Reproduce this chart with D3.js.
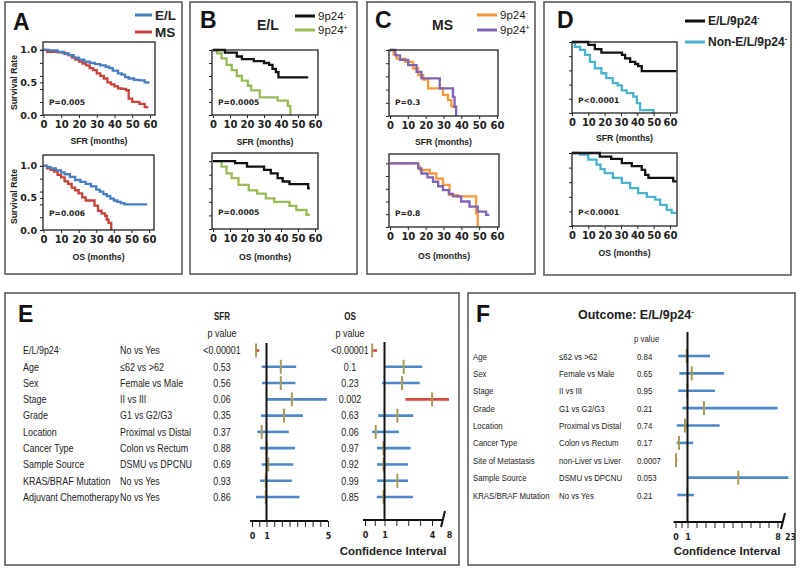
<!DOCTYPE html>
<html><head><meta charset="utf-8">
<script src="https://cdn.jsdelivr.net/npm/d3@7"></script>
<style>
body{margin:0;background:#fff}
svg{display:block}
</style></head><body>
<svg id="fig" width="800" height="569"></svg>
<script>
// ---------- Kaplan-Meier data: [months, survival] ----------
const aSfrEL = [[0,1],[3,0.99],[8,0.97],[11,0.95],[14,0.92],[17,0.88],[20,0.85],[23,0.82],[26,0.80],[29,0.78],[32,0.76],[35,0.74],[37,0.72],[39,0.68],[42,0.64],[44,0.62],[46,0.58],[48,0.56],[51,0.54],[54,0.53],[57,0.50],[59,0.48]];
const aSfrMS = [[0,1],[2,0.97],[8,0.96],[12,0.94],[14,0.92],[16,0.88],[18,0.85],[20,0.82],[22,0.79],[24,0.76],[26,0.72],[28,0.69],[30,0.64],[32,0.60],[34,0.56],[36,0.50],[38,0.47],[40,0.44],[42,0.41],[44,0.40],[46.5,0.38],[48,0.25],[50,0.20],[54,0.17],[57,0.12],[59,0.12]];
const aOsEL = [[0,1],[2,0.98],[4,0.96],[7,0.93],[10,0.90],[12,0.87],[15,0.83],[18,0.78],[21,0.75],[24,0.72],[27,0.68],[30,0.63],[32,0.60],[34,0.56],[36,0.53],[38,0.49],[40,0.46],[42,0.44],[44,0.42],[46,0.40],[59,0.40]];
const aOsMS = [[0,1],[2,0.96],[4,0.94],[6,0.91],[8,0.86],[10,0.82],[12,0.76],[14,0.72],[16,0.66],[18,0.62],[20,0.57],[22,0.51],[24,0.46],[28,0.46],[29,0.38],[31,0.30],[33,0.26],[35,0.22],[36,0.16],[37,0.11],[38.5,0.0]];
const bSfrNeg = [[0,1],[7,0.96],[14,0.90],[17,0.86],[24,0.83],[30,0.80],[33,0.77],[35,0.71],[37,0.66],[38.5,0.58],[56,0.58]];
const bSfrPos = [[0,1],[2.4,0.95],[5,0.87],[8,0.77],[11,0.69],[14,0.60],[17,0.53],[20.5,0.45],[22.5,0.38],[27.5,0.27],[38,0.22],[44,0.14],[45.5,0.0]];
const bOsNeg = [[0,1],[13,0.97],[20,0.92],[30,0.87],[34,0.82],[38,0.75],[41,0.70],[45,0.66],[56,0.60],[57,0.60]];
const bOsPos = [[0,1],[5,0.92],[8,0.82],[11,0.75],[15,0.65],[21,0.57],[26,0.52],[31,0.45],[36,0.40],[45,0.34],[49,0.28],[55,0.21],[57,0.21]];
const cSfrNeg = [[0,1],[2,0.93],[3.7,0.87],[8.4,0.82],[13,0.72],[15.8,0.62],[18.6,0.55],[21.4,0.42],[26,0.42],[29.7,0.32],[32.5,0.24],[34.4,0.15],[35.3,0.12]];
const cSfrPos = [[0,1],[3,0.92],[5.6,0.85],[10.2,0.77],[14.9,0.67],[17.6,0.57],[27.9,0.42],[35.3,0.29],[36.2,0.14],[37.1,0.0]];
const cOsNeg = [[0,1],[15.8,0.95],[16.7,0.895],[22.3,0.84],[26,0.76],[29.7,0.66],[33.4,0.50],[38,0.48],[48.3,0.215],[49.2,0.0]];
const cOsPos = [[0,1],[15.8,0.92],[17.6,0.84],[21,0.78],[24.1,0.71],[27,0.64],[29.7,0.58],[33,0.52],[35.3,0.48],[39.9,0.40],[44.6,0.32],[49.2,0.24],[53.9,0.19],[55.7,0.19]];
const dSfrEL = [[0,1],[10,0.96],[14,0.90],[18,0.85],[30.6,0.82],[32.5,0.77],[35.6,0.72],[38.7,0.69],[40.5,0.66],[42.7,0.59],[64,0.59]];
const dSfrNon = [[0,1],[1.8,0.93],[4.9,0.89],[8,0.82],[11,0.72],[14,0.63],[18,0.56],[21,0.49],[25,0.42],[28,0.39],[30.5,0.32],[33.5,0.28],[37.5,0.23],[39.7,0.14],[41.7,0.04],[50,0.0]];
const dOsEL = [[0,1],[17,0.95],[24,0.92],[30.5,0.86],[36.6,0.82],[42.7,0.77],[44.8,0.70],[46.8,0.66],[62,0.61],[64,0.61]];
const dOsNon = [[0,1],[5,0.977],[10,0.91],[15,0.84],[17.5,0.78],[20,0.725],[25,0.66],[30.5,0.59],[35.6,0.52],[40.5,0.45],[45.8,0.40],[51,0.36],[54,0.29],[58,0.22],[61,0.18],[64,0.18]];

const monthTicks = [0,10,20,30,40,50,60];
const survTicks = [0,0.2,0.4,0.6,0.8,1];
const survLabels = [0,0.5,1];

// ---------- Forest plot data ----------
const eVars = ['E/L/9p24','Age','Sex','Stage','Grade','Location','Cancer Type','Sample Source','KRAS/BRAF Mutation','Adjuvant Chemotherapy'];
const eComps = ['No vs Yes','≤62 vs >62','Female vs Male','II vs III','G1 vs G2/G3','Proximal vs Distal','Colon vs Rectum','DSMU vs DPCNU','No vs Yes','No vs Yes'];
const eSfrP = ['<0.00001','0.53','0.56','0.06','0.35','0.37','0.88','0.69','0.93','0.86'];
const eSfrHR = [0.28,1.93,1.93,2.65,2.14,0.67,1.01,1.12,0.95,0.95];
const eSfrLo = [0.21,0.67,0.69,0.97,0.62,0.37,0.55,0.67,0.55,0.28];
const eSfrHi = [0.5,2.93,2.88,4.93,3.37,2.45,2.86,2.75,2.65,3.15];
const eSfrSig = [1,0,0,0,0,0,0,0,0,0];
const eOsP = ['<0.00001','0.1','0.23','0.002','0.63','0.06','0.97','0.92','0.99','0.85'];
const eOsHR = [0.37,2.21,2.11,4.02,1.81,0.55,0.95,0.95,1.81,0.95];
const eOsLo = [0.33,1.0,0.88,2.32,0.67,0.37,0.62,0.62,0.62,0.6];
const eOsHi = [0.62,3.38,3.23,8.0,2.81,1.91,2.64,2.49,2.49,2.81];
const eOsSig = [1,0,0,1,0,0,0,0,0,0];
const eSfrTicks = [0,0.5,1,1.5,2,2.5,3,3.5,4,4.5,5];
const eSfrTickLabels = [0,1,5];
const eOsTicks = [0,0.5,1,1.75,2.5,3.25,4];
const eOsTickLabels = [0,1,4,8];

const fVars = ['Age','Sex','Stage','Grade','Location','Cancer Type','Site of Metastasis','Sample Source','KRAS/BRAF Mutation'];
const fComps = ['≤62 vs >62','Female vs Male','II vs III','G1 vs G2/G3','Proximal vs Distal','Colon vs Rectum','non-Liver vs Liver','DSMU vs DPCNU','No vs Yes'];
const fP = ['0.84','0.65','0.95','0.21','0.74','0.17','0.0007','0.053','0.21'];
const fHR = [0.93,1.33,0.98,2.28,0.79,0.29,0.04,4.95,0.98];
const fLo = [0.23,0.32,0.23,0.57,0.1,0.1,0.0,0.98,0.15];
const fHi = [2.75,3.84,3.14,8.06,3.5,1.45,0.15,21,1.5];
const fSig = [0,0,0,0,0,0,1,0,0];
const fTicks = [0,0.5,1,1.7,2.4,3.1,3.8,4.5,5.2,5.9,6.6,7.3,8];
const fTickLabels = [0,1,8,23];

// ---------- colours ----------
const C = {el:'#4A7EC2', ms:'#C8413B', blk:'#111111', grn:'#9BBB59', org:'#F39A3E', pur:'#8064B2', cyan:'#4BB3CB',
           ci:'#4E88C8', hr:'#A89B5A', sig:'#D9483F', frame:'#5a5a5a'};
const SANS = '"Liberation Sans", Arial, sans-serif';
const DJ = '"DejaVu Sans", Verdana, sans-serif';
const NARROW_SX = 0.8;   // condensed rendering of the table text

const svg = d3.select('#fig');

// panel frames
[[5,2,177,272],[190,2,167,272],[367,2,168,272],[544,2,247,273],[5,293,454,272],[468,293,327,272]].forEach(r=>{
  svg.append('rect').attr('x',r[0]).attr('y',r[1]).attr('width',r[2]).attr('height',r[3])
    .attr('fill','none').attr('stroke',C.frame).attr('stroke-width',1.6);
});

function txt(x,y,s,o={}){
  const t = svg.append('text').text(s)
    .attr('font-family',o.ff||SANS).attr('font-size',o.fs||10).attr('font-weight',o.fw||'normal')
    .attr('fill',o.fill||'#222').attr('text-anchor',o.anchor||'start');
  if(o.sx){ t.attr('x',0).attr('y',0).attr('transform',`translate(${x},${y}) scale(${o.sx},1)`); }
  else { t.attr('x',x).attr('y',y); }
  return t;
}
function supText(x,y,base,sup,o={}){
  const t = txt(x,y,base,o);
  t.append('tspan').attr('dy',-(o.fs||10)*0.38).attr('font-size',(o.fs||10)*0.6).text(sup);
  return t;
}

// ---------- KM plots ----------
function drawKM(s, series){
  const x = d3.scaleLinear().domain([0,60]).range([s.x0,s.x60]);
  const y = d3.scaleLinear().domain([0,s.ymax]).range([s.bottom,s.top]);
  const line = d3.line().x(d=>x(d[0])).y(d=>y(d[1])).curve(d3.curveStepAfter);
  series.forEach(se=>{
    svg.append('path').datum(se.data).attr('d',line).attr('fill','none')
      .attr('stroke',se.color).attr('stroke-width',2.3).attr('stroke-linejoin','miter');
  });
  svg.append('rect').attr('x',s.left).attr('y',s.top).attr('width',s.right-s.left).attr('height',s.bottom-s.top)
    .attr('fill','none').attr('stroke','#222').attr('stroke-width',1.3);
  const gx = svg.append('g').attr('transform',`translate(0,${s.bottom})`)
    .call(d3.axisBottom(x).tickValues(monthTicks).tickSize(3).tickPadding(3).tickFormat(d3.format('d')));
  gx.select('.domain').remove();
  gx.selectAll('line').attr('stroke','#222');
  gx.selectAll('text').attr('font-family',DJ).attr('font-weight','bold').attr('font-size',10).attr('fill','#222');
  const gy = svg.append('g').attr('transform',`translate(${s.left},0)`)
    .call(d3.axisLeft(y).tickValues(survTicks).tickSize(3).tickFormat(''));
  gy.select('.domain').remove();
  gy.selectAll('line').attr('stroke','#222');
  if(s.ylabels){
    const gl = svg.append('g').attr('transform',`translate(${s.left},0)`)
      .call(d3.axisLeft(y).tickValues(survLabels).tickSize(3).tickPadding(3).tickFormat(d3.format('.1f')));
    gl.select('.domain').remove();
    gl.selectAll('line').attr('stroke','#222');
    gl.selectAll('text').attr('font-family',DJ).attr('font-weight','bold').attr('font-size',9.5).attr('fill','#222');
    svg.append('text').attr('transform',`translate(${s.left-26},${(s.top+s.bottom)/2+4}) rotate(-90)`)
      .attr('text-anchor','middle').attr('font-family',SANS).attr('font-weight','bold').attr('font-size',8.7)
      .attr('fill','#222').text('Survival Rate');
  }
  txt((s.left+s.right)/2, s.titleY, s.title, {ff:SANS,fw:'bold',fs:8.7,anchor:'middle'});
  txt(s.left+6, s.pY, s.p, {ff:DJ,fw:'bold',fs:7.6});
}

drawKM({left:43,x0:43.5,x60:150,right:155,top:42,bottom:115,ymax:1.12,ylabels:true,title:'SFR (months)',titleY:144,p:'P=0.005',pY:105},
  [{data:aSfrMS,color:C.ms},{data:aSfrEL,color:C.el}]);
drawKM({left:43,x0:43.5,x60:149,right:154,top:155,bottom:230,ymax:1.17,ylabels:true,title:'OS (months)',titleY:260,p:'P=0.006',pY:216},
  [{data:aOsMS,color:C.ms},{data:aOsEL,color:C.el}]);
drawKM({left:212,x0:213,x60:315,right:318,top:50,bottom:115,ymax:1.0,title:'SFR (months)',titleY:145,p:'P=0.0005',pY:105},
  [{data:bSfrPos,color:C.grn},{data:bSfrNeg,color:C.blk}]);
drawKM({left:212,x0:213,x60:315,right:318,top:153,bottom:229,ymax:1.12,title:'OS (months)',titleY:260,p:'P=0.0005',pY:215},
  [{data:bOsPos,color:C.grn},{data:bOsNeg,color:C.blk}]);
drawKM({left:389,x0:390,x60:497,right:498,top:50,bottom:116,ymax:1.0,title:'SFR (months)',titleY:145,p:'P=0.3',pY:105},
  [{data:cSfrNeg,color:C.org},{data:cSfrPos,color:C.pur}]);
drawKM({left:389,x0:390,x60:497,right:499,top:154,bottom:227,ymax:1.146,title:'OS (months)',titleY:259,p:'P=0.8',pY:216},
  [{data:cOsNeg,color:C.org},{data:cOsPos,color:C.pur}]);
drawKM({left:572,x0:572,x60:670,right:677,top:42,bottom:113,ymax:1.0,title:'SFR (months)',titleY:141,p:'P<0.0001',pY:103},
  [{data:dSfrNon,color:C.cyan},{data:dSfrEL,color:C.blk}]);
drawKM({left:572,x0:572,x60:670,right:677,top:153,bottom:226,ymax:1.0,title:'OS (months)',titleY:256,p:'P<0.0001',pY:215},
  [{data:dOsNon,color:C.cyan},{data:dOsEL,color:C.blk}]);

// panel letters
[['A',13,30],['B',200,28],['C',375,28],['D',557,28],['E',18,322],['F',476,322]].forEach(l=>{
  txt(l[1],l[2],l[0],{fw:'bold',fs:23,fill:'#111'});
});

// legends
function legLine(x1,x2,y,color){
  svg.append('line').attr('x1',x1).attr('x2',x2).attr('y1',y).attr('y2',y).attr('stroke',color).attr('stroke-width',3);
}
legLine(135,152,15,C.el); txt(155,20,'E/L',{fw:'bold',fs:13.5});
legLine(135,152,32,C.ms); txt(155,37,'MS',{fw:'bold',fs:13.5});
txt(257,30,'E/L',{fw:'bold',fs:14});
legLine(295,315,16,C.blk); supText(318,20,'9p24','-',{fs:11.5});
legLine(295,315,30,C.grn); supText(318,34,'9p24','+',{fs:11.5});
txt(432,30,'MS',{fw:'bold',fs:14});
legLine(477,497,15,C.org); supText(500,19,'9p24','-',{fs:11.5});
legLine(477,497,30,C.pur); supText(500,34,'9p24','+',{fs:11.5});
legLine(685,705,21,C.blk); supText(708,25,'E/L/9p24','-',{fw:'bold',fs:12});
legLine(685,705,42,C.cyan); supText(708,46,'Non-E/L/9p24','-',{fw:'bold',fs:12});

// ---------- forest plots ----------
function drawForest(o){
  const x = d3.scaleLinear().domain(o.domain).range(o.range);
  const y = o.rows;
  o.keys.forEach((k,i)=>{
    const yy = y(k);
    svg.append('line').attr('x1',x(o.lo[i])).attr('x2',x(o.hi[i])).attr('y1',yy).attr('y2',yy)
      .attr('stroke',o.sig[i]?C.sig:C.ci).attr('stroke-width',2.6);
    svg.append('line').attr('x1',x(o.hr[i])).attr('x2',x(o.hr[i])).attr('y1',yy-7).attr('y2',yy+7)
      .attr('stroke',C.hr).attr('stroke-width',2);
  });
  svg.append('line').attr('x1',x(1)).attr('x2',x(1)).attr('y1',o.refTop).attr('y2',o.axisY)
    .attr('stroke','#111').attr('stroke-width',2);
  const g = svg.append('g').attr('transform',`translate(0,${o.axisY})`)
    .call(d3.axisBottom(x).tickValues(o.ticks).tickSize(6).tickFormat(''));
  g.select('.domain').remove();
  g.selectAll('line').attr('stroke','#222').attr('stroke-width',1);
  svg.append('line').attr('x1',x(o.domain[0])-2).attr('x2',o.axisEnd).attr('y1',o.axisY).attr('y2',o.axisY)
    .attr('stroke','#111').attr('stroke-width',2);
  if(o.breakX){
    svg.append('line').attr('x1',o.breakX-2).attr('x2',o.breakX+2).attr('y1',o.axisY+7).attr('y2',o.axisY-9)
      .attr('stroke','#111').attr('stroke-width',2);
  }
  const gl = svg.append('g').attr('transform',`translate(0,${o.axisY})`)
    .call(d3.axisBottom(x).tickValues(o.tickLabels).tickSize(0).tickPadding(12).tickFormat(d3.format('d')));
  gl.select('.domain').remove();
  gl.selectAll('text').attr('font-family',DJ).attr('font-weight','bold').attr('font-size',8).attr('fill','#222');
}

const eRows = d3.scalePoint().domain(eVars).range([350.5,497]);
const fRows = d3.scalePoint().domain(fVars).range([356,495]);

// E table text (condensed)
const eT = {fs:11.2, sx:NARROW_SX};
eVars.forEach((v,i)=>{
  const yy = eRows(v)+3.8;
  if(i===0) supText(23,yy,'E/L/9p24','-',eT);
  else txt(23,yy,v,eT);
  txt(120,yy,eComps[i],eT);
  txt(222,yy,eSfrP[i],{...eT,anchor:'middle'});
  txt(350,yy,eOsP[i],{...eT,anchor:'middle'});
});
txt(222,320,'SFR',{fw:'bold',fs:10,sx:NARROW_SX,anchor:'middle'});
txt(222,337,'p value',{...eT,anchor:'middle'});
txt(350,320,'OS',{fw:'bold',fs:10,sx:NARROW_SX,anchor:'middle'});
txt(350,337,'p value',{...eT,anchor:'middle'});

drawForest({domain:[0,1,5],range:[252,266.5,328],rows:eRows,keys:eVars,lo:eSfrLo,hi:eSfrHi,hr:eSfrHR,sig:eSfrSig,
  refTop:343,axisY:521,ticks:eSfrTicks,tickLabels:eSfrTickLabels,axisEnd:328});
drawForest({domain:[0,1,4,8],range:[365,384.5,432,449],rows:eRows,keys:eVars,lo:eOsLo,hi:eOsHi,hr:eOsHR,sig:eOsSig,
  refTop:342,axisY:520,ticks:eOsTicks,tickLabels:eOsTickLabels,axisEnd:442,breakX:443});
txt(393,555,'Confidence Interval',{fw:'bold',fs:11.5,anchor:'middle'});

// F table text (condensed)
const fT = {fs:9.8, sx:NARROW_SX};
fVars.forEach((v,i)=>{
  const yy = fRows(v)+3.5;
  txt(473,yy,v,fT);
  txt(559,yy,fComps[i],fT);
  txt(637,yy,fP[i],fT);
});
txt(634,342,'p value',fT);
supText(578,319,'Outcome: E/L/9p24','-',{fw:'bold',fs:12.5});
drawForest({domain:[0,1,8,23],range:[675.5,687.5,777.5,790],rows:fRows,keys:fVars,lo:fLo,hi:fHi,hr:fHR,sig:fSig,
  refTop:332,axisY:522,ticks:fTicks,tickLabels:fTickLabels,axisEnd:782,breakX:783});
txt(727,555,'Confidence Interval',{fw:'bold',fs:11.5,anchor:'middle'});
</script></body></html>
